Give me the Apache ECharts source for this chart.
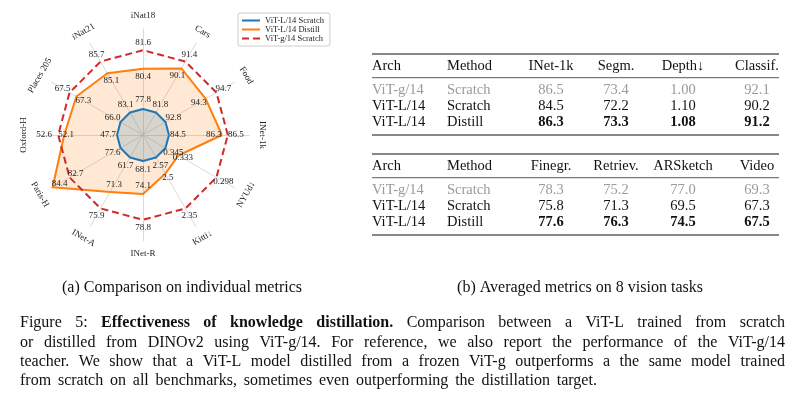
<!DOCTYPE html>
<html>
<head>
<meta charset="utf-8">
<script src="https://cdn.jsdelivr.net/npm/echarts@6/dist/echarts.min.js"></script>
<style>
html,body{margin:0;padding:0;background:#fff;}
#main{width:799px;height:397px;}
</style>
</head>
<body>
<div id="main"></div>
<script>
// radar axes, counter-clockwise starting with INet-1k on the right
var axisNames = ['INet-1k', 'Food', 'Cars', 'iNat18', 'iNat21', 'Places 205', 'Oxford-H', 'Paris-H', 'INet-A', 'INet-R', 'Kitti↓', 'NYUd↓'];
var lowerBetter = [false, false, false, false, false, false, false, false, false, false, true, true];
var scratchL = [84.5, 92.8, 81.8, 77.8, 83.1, 66.0, 47.7, 77.6, 61.7, 68.1, 2.57, 0.345];
var distillL = [86.3, 94.3, 90.1, 80.4, 85.1, 67.3, 52.1, 84.4, 71.3, 74.1, 2.5, 0.333];
var scratchG = [86.5, 94.7, 91.4, 81.6, 85.7, 67.5, 52.6, 82.7, 75.9, 78.8, 2.35, 0.298];
var seriesNames = ['ViT-L/14 Scratch', 'ViT-L/14 Distill', 'ViT-g/14 Scratch'];

// tables
var archs = ['ViT-g/14', 'ViT-L/14', 'ViT-L/14'];
var methods = ['Scratch', 'Scratch', 'Distill'];
var head1 = ['Arch', 'Method', 'INet-1k', 'Segm.', 'Depth↓', 'Classif.'];
var vals1 = [['86.5', '73.4', '1.00', '92.1'], ['84.5', '72.2', '1.10', '90.2'], ['86.3', '73.3', '1.08', '91.2']];
var head2 = ['Arch', 'Method', 'Finegr.', 'Retriev.', 'ARSketch', 'Video'];
var vals2 = [['78.3', '75.2', '77.0', '69.3'], ['75.8', '71.3', '69.5', '67.3'], ['77.6', '76.3', '74.5', '67.5']];

var subA = '(a) Comparison on individual metrics';
var subB = '(b) Averaged metrics on 8 vision tasks';
var captionLines = [
	[['Figure 5:', 0], ['Effectiveness of knowledge distillation.', 1], ['Comparison between a ViT-L trained from scratch', 0]],
	[['or distilled from DINOv2 using ViT-g/14. For reference, we also report the performance of the ViT-g/14', 0]],
	[['teacher. We show that a ViT-L model distilled from a frozen ViT-g outperforms a the same model trained', 0]],
	[['from scratch on all benchmarks, sometimes even outperforming the distillation target.', 0]]
];

var SERIF = '"Liberation Serif", serif';
var CX = 143, CY = 135, R = 106, NAME_R = 119;

function plot(v, i) { return lowerBetter[i] ? -v : v; }
function fmt(v) { return Math.abs(v) >= 10 ? v.toFixed(1) : String(v); }

// each axis scaled so that the scratch ViT-L sits near 0.245 and ViT-g near 0.8
var indicator = axisNames.map(function (n, i) {
	var b = plot(scratchL[i], i), g = plot(scratchG[i], i);
	var span = (g - b) / 0.555;
	var mn = b - 0.245 * span;
	return { name: n, min: mn, max: mn + span };
});

// value labels pushed along the axis direction (rich padding per axis)
function offsetRich(off) {
	var rich = {};
	for (var k = 0; k < axisNames.length; k++) {
		var d = typeof off === 'number' ? off : off[k];
		var a = k * 2 * Math.PI / axisNames.length;
		var dx = d * Math.cos(a), dy = -d * Math.sin(a);
		rich['k' + k] = {
			padding: [Math.max(0, 2 * dy), Math.max(0, -2 * dx), Math.max(0, -2 * dy), Math.max(0, 2 * dx)],
			fontFamily: SERIF, fontSize: 9, color: '#222'
		};
	}
	return rich;
}

function radarSeries(name, values, color, dash, fill, off) {
	var data = values.map(plot);
	var s = {
		type: 'radar', name: name, symbol: 'circle', symbolSize: 0.1, silent: true,
		lineStyle: { color: color, width: 2, type: dash },
		itemStyle: { color: color },
		label: {
			show: true, position: 'inside', color: '#222', textBorderWidth: 0,
			fontFamily: SERIF, fontSize: 9,
			formatter: function (p) {
				var k = data.indexOf(p.value);
				return '{k' + k + '|' + fmt(values[k]) + '}';
			},
			rich: offsetRich(off)
		},
		emphasis: { disabled: true },
		data: [{ name: name, value: data }]
	};
	if (fill) s.areaStyle = { color: fill };
	return s;
}

var graphics = [];

// axis names, rotated along the circle
axisNames.forEach(function (n, k) {
	var deg = k * 360 / axisNames.length;
	var a = deg * Math.PI / 180;
	var rot = deg <= 180 ? deg - 90 : deg - 270;
	graphics.push({
		type: 'text', x: CX + NAME_R * Math.cos(a), y: CY - NAME_R * Math.sin(a),
		rotation: rot * Math.PI / 180, silent: true,
		style: { text: n, align: 'center', verticalAlign: 'middle', fontFamily: SERIF, fontSize: 9, fill: '#222' }
	});
});

// tables
var TL = 372, TR = 779, TFS = 14.5;
var colX = [372, 447, 551, 616, 683, 757];
function addTable(top, head, vals) {
	graphics.push({ type: 'line', shape: { x1: TL, y1: top, x2: TR, y2: top }, style: { stroke: '#111', lineWidth: 1.2 } });
	graphics.push({ type: 'line', shape: { x1: TL, y1: top + 23.7, x2: TR, y2: top + 23.7 }, style: { stroke: '#111', lineWidth: 0.7 } });
	graphics.push({ type: 'line', shape: { x1: TL, y1: top + 81, x2: TR, y2: top + 81 }, style: { stroke: '#111', lineWidth: 1.2 } });
	var rowY = [top + 36, top + 52.5, top + 68];
	head.forEach(function (h, c) {
		graphics.push({
			type: 'text', x: colX[c], y: top + 12,
			style: { text: h, align: c < 2 ? 'left' : 'center', verticalAlign: 'middle', fontFamily: SERIF, fontSize: TFS, fill: '#111' }
		});
	});
	vals.forEach(function (row, r) {
		var fill = r === 0 ? '#9a9a9a' : '#111';
		var cells = [archs[r], methods[r]].concat(row);
		cells.forEach(function (t, c) {
			graphics.push({
				type: 'text', x: colX[c], y: rowY[r],
				style: {
					text: t, align: c < 2 ? 'left' : 'center', verticalAlign: 'middle',
					fontFamily: SERIF, fontSize: TFS, fill: fill,
					fontWeight: (r === 2 && c >= 2) ? 'bold' : 'normal'
				}
			});
		});
	});
}
addTable(54, head1, vals1);
addTable(154, head2, vals2);

// sub captions
var CAP_SIZE = 16;
graphics.push({ type: 'text', x: 182, y: 288, style: { text: subA, align: 'center', verticalAlign: 'middle', fontFamily: SERIF, fontSize: CAP_SIZE, fill: '#111' } });
graphics.push({ type: 'text', x: 580, y: 288, style: { text: subB, align: 'center', verticalAlign: 'middle', fontFamily: SERIF, fontSize: CAP_SIZE, fill: '#111' } });

// figure caption, justified word by word
var ctx = document.createElement('canvas').getContext('2d');
function measure(t, bold) {
	ctx.font = (bold ? 'bold ' : '') + CAP_SIZE + 'px "Liberation Serif"';
	return ctx.measureText(t).width;
}
var CAP_L = 20, CAP_R = 785, capY = [323, 343, 362, 381];
captionLines.forEach(function (line, li) {
	var words = [];
	line.forEach(function (seg) {
		seg[0].split(' ').forEach(function (w) { words.push({ t: w, b: seg[1], w: measure(w, seg[1]) }); });
	});
	var total = 0;
	words.forEach(function (w) { total += w.w; });
	var last = li === captionLines.length - 1;
	var gap = last ? measure(' ', 0) * 1.7 : (CAP_R - CAP_L - total) / (words.length - 1);
	var x = CAP_L;
	words.forEach(function (w) {
		graphics.push({
			type: 'text', x: x, y: capY[li],
			style: { text: w.t, align: 'left', verticalAlign: 'middle', fontFamily: SERIF, fontSize: CAP_SIZE, fontWeight: w.b ? 'bold' : 'normal', fill: '#111' }
		});
		x += w.w + gap;
	});
});

var chart = echarts.init(document.getElementById('main'));
chart.setOption({
	animation: false,
	backgroundColor: '#fff',
	legend: {
		orient: 'vertical', left: 238, top: 13,
		padding: [3, 6, 3, 4], itemGap: 0, itemWidth: 18, itemHeight: 2,
		backgroundColor: '#fff', borderColor: '#cccccc', borderWidth: 1, borderRadius: 2,
		textStyle: { fontFamily: SERIF, fontSize: 8.5, color: '#222', lineHeight: 9 },
		data: [
			{ name: seriesNames[0], icon: 'rect', itemStyle: { color: '#1f77b4', borderWidth: 0 } },
			{ name: seriesNames[1], icon: 'rect', itemStyle: { color: '#ff7f0e', borderWidth: 0 } },
			{ name: seriesNames[2], icon: 'path://M0,0H7V2H0Z M11,0H18V2H11Z', itemStyle: { color: '#d62728', borderWidth: 0 } }
		]
	},
	radar: {
		center: [CX, CY], radius: R, startAngle: 0, shape: 'polygon',
		indicator: indicator,
		axisName: { show: false },
		axisLine: { lineStyle: { color: '#d0d0d0', width: 0.8 } },
		splitLine: { show: false },
		splitArea: { show: false },
		axisTick: { show: false },
		axisLabel: { show: false }
	},
	series: [
		radarSeries(seriesNames[1], distillL, '#ff7f0e', 'solid', 'rgba(255,127,14,0.25)', [-8, -8, -8, -8, -8, -8, -2, -8, -8, -8, 5, 5]),
		radarSeries(seriesNames[0], scratchL, '#1f77b4', 'solid', 'rgba(31,119,180,0.25)', 9),
		radarSeries(seriesNames[2], scratchG, '#d62728', [7, 4], null, [8, 8, 8, 8, 8, 8, 14, -7, 8, 8, 8, 8])
	],
	graphic: graphics
});
</script>
</body>
</html>
